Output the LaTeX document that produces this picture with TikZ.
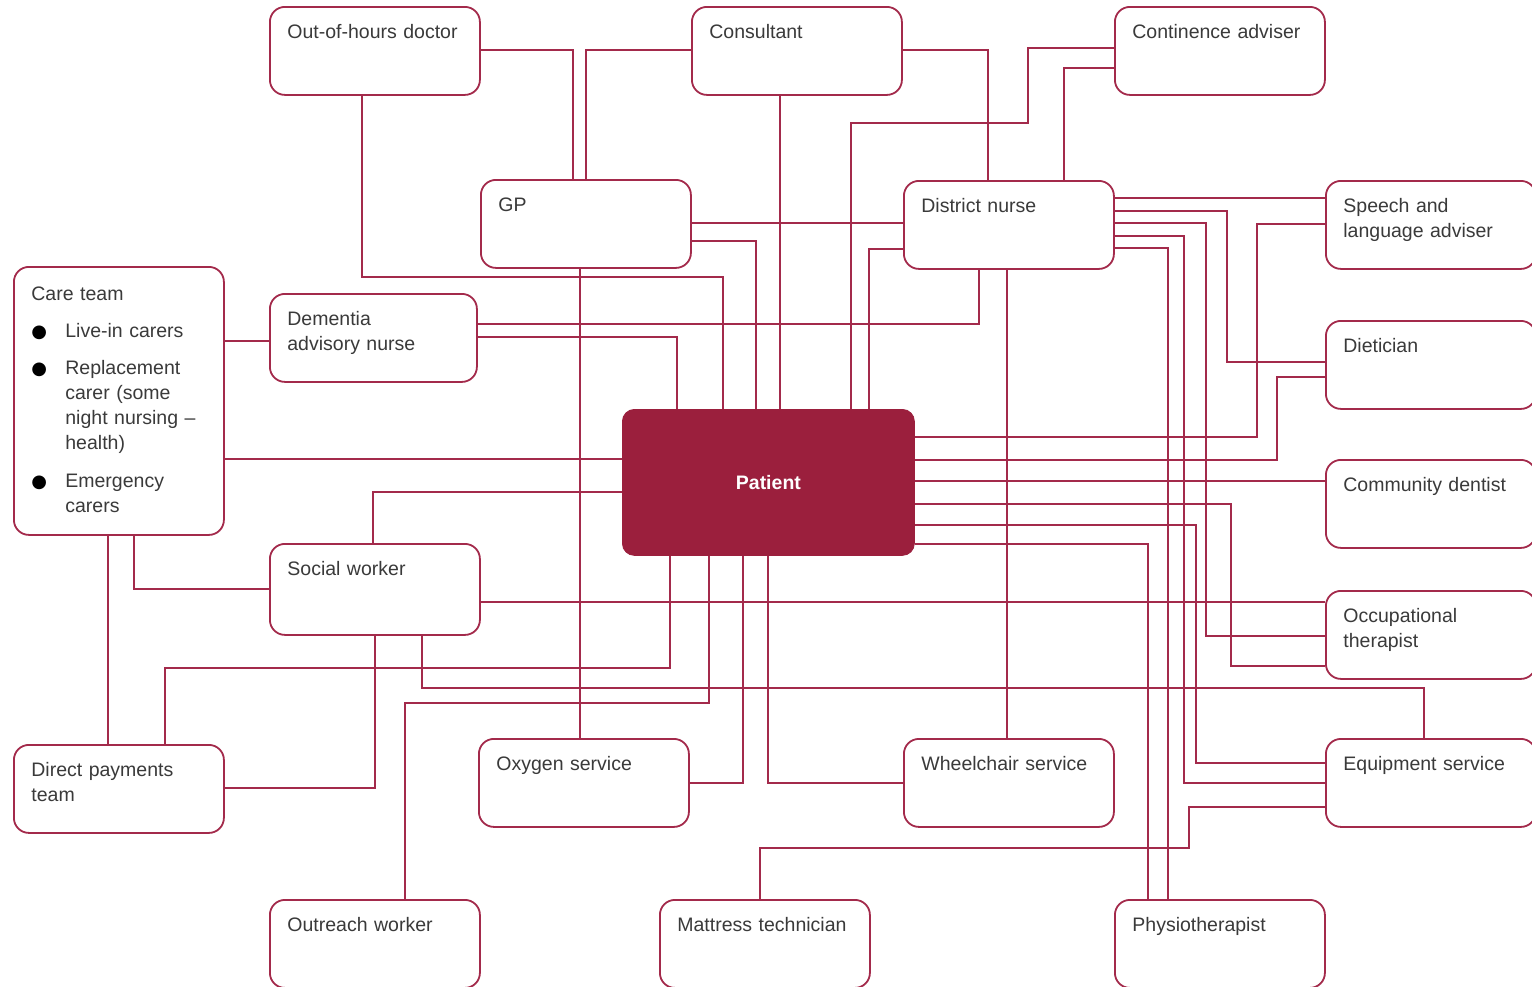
\documentclass[tikz,border=0pt]{standalone}
\usepackage{fontspec}
\setmainfont{Liberation Sans}
\newfontfamily\dotfont{DejaVu Sans}

\definecolor{careRed}{HTML}{9B1F3D}
\definecolor{linkRed}{HTML}{A32A4B}
\definecolor{labelGrey}{HTML}{3A3A3A}

\tikzset{
  role/.style={draw=linkRed, line width=0.9pt, fill=white, rounded corners=7.5pt,
    anchor=north west, align=left, text width=87.5pt, inner xsep=8.75pt, inner ysep=7.75pt,
    text height=8.25pt, text depth=20.25pt},
  tall/.style={text depth=21.75pt},
  hub/.style={draw=careRed, fill=careRed, rounded corners=6pt, anchor=north west,
    minimum width=146pt, minimum height=73pt, text=white,
    font=\fontsize{9.75}{12.5}\selectfont\bfseries},
  link/.style={draw=linkRed, line width=0.8pt},
}
\newcommand\dotitem{\makebox[17pt][l]{{\dotfont\fontsize{9}{9}\selectfont\color{black}●}}}
\newcommand\gap{\hspace*{17pt}}

\begin{document}
\begin{tikzpicture}[x=0.5pt, y=-0.5pt, font=\fontsize{9.75}{12.5}\selectfont, text=labelGrey]
  \useasboundingbox (0,0) rectangle (1532,986);
  \clip (0,0) rectangle (1532,986);

  % everyone round the patient
  \node[role] (ooh) at (269,6) {Out-of-hours doctor};
  \node[role] (consultant) at (691,6) {Consultant};
  \node[role] (continence) at (1114,6) {Continence adviser};
  \node[role] (gp) at (480,179) {GP};
  \node[role] (district) at (903,180) {District nurse};
  \node[role] (speech) at (1325,180) {Speech and\\language adviser};
  \node[role, text height=9pt, text depth=109.5pt] (careteam) at (13,266) {Care team\\[6pt]
    \dotitem Live-in carers\\[6pt]
    \dotitem Replacement\\
    \gap carer (some\\
    \gap night nursing –\\
    \gap health)\\[6.5pt]
    \dotitem Emergency\\
    \gap carers};
  \node[role, text width=86pt] (dementia) at (269,293) {Dementia\\advisory nurse};
  \node[role] (dietician) at (1325,320) {Dietician};
  \node[hub] (patient) at (622,409) {Patient};
  \node[role] (dentist) at (1325,459) {Community dentist};
  \node[role, tall] (social) at (269,543) {Social worker};
  \node[role] (ot) at (1325,590) {Occupational\\therapist};
  \node[role] (oxygen) at (478,738) {Oxygen service};
  \node[role] (wheelchair) at (903,738) {Wheelchair service};
  \node[role] (equipment) at (1325,738) {Equipment service};
  \node[role] (direct) at (13,744) {Direct payments\\team};
  \node[role] (outreach) at (269,899) {Outreach worker};
  \node[role] (mattress) at (659,899) {Mattress technician};
  \node[role] (physio) at (1114,899) {Physiotherapist};

  % top
  \draw[link] (ooh.east |- 0,50) -| (gp.north -| 573,0);
  \draw[link] (consultant.west |- 0,50) -| (gp.north -| 586,0);
  \draw[link] (ooh.south -| 362,0) |- (723,277) -- (patient.north -| 723,0);
  \draw[link] (gp.east |- 0,223) -- (district.west |- 0,223);
  \draw[link] (gp.east |- 0,241) -| (patient.north -| 756,0);
  \draw[link] (gp.south -| 580,0) -- (oxygen.north -| 580,0);
  \draw[link] (consultant.east |- 0,50) -| (district.north -| 988,0);
  \draw[link] (consultant.south -| 780,0) -- (patient.north -| 780,0);
  \draw[link] (continence.west |- 0,48) -| (1028,123) -| (patient.north -| 851,0);
  \draw[link] (continence.west |- 0,68) -| (district.north -| 1064,0);

  % district nurse
  \draw[link] (district.west |- 0,249) -| (patient.north -| 869,0);
  \draw[link] (district.east |- 0,198) -- (speech.west |- 0,198);
  \draw[link] (district.east |- 0,211) -| (1227,362) -- (dietician.west |- 0,362);
  \draw[link] (district.east |- 0,223) -| (1206,636) -- (ot.west |- 0,636);
  \draw[link] (district.east |- 0,236) -| (1184,783) -- (equipment.west |- 0,783);
  \draw[link] (district.east |- 0,248) -| (physio.north -| 1168,0);
  \draw[link] (district.south -| 1007,0) -- (wheelchair.north -| 1007,0);

  % left side
  \draw[link] (dementia.east |- 0,324) -| (district.south -| 979,0);
  \draw[link] (dementia.east |- 0,337) -| (patient.north -| 677,0);
  \draw[link] (careteam.east |- 0,341) -- (dementia.west |- 0,341);
  \draw[link] (careteam.east |- 0,459) -- (patient.west |- 0,459);
  \draw[link] (careteam.south -| 108,0) -- (direct.north -| 108,0);
  \draw[link] (careteam.south -| 134,0) |- (social.west |- 0,589);
  \draw[link] (patient.west |- 0,492) -| (social.north -| 373,0);
  \draw[link] (social.east |- 0,602) -- (ot.west |- 0,602);
  \draw[link] (social.south -| 375,0) |- (direct.east |- 0,788);
  \draw[link] (social.south -| 422,0) |- (1424,688) -- (equipment.north -| 1424,0);

  % under the patient
  \draw[link] (patient.south -| 670,0) |- (165,668) -- (direct.north -| 165,0);
  \draw[link] (patient.south -| 709,0) |- (405,703) -- (outreach.north -| 405,0);
  \draw[link] (patient.south -| 743,0) |- (oxygen.east |- 0,783);
  \draw[link] (patient.south -| 768,0) |- (wheelchair.west |- 0,783);

  % right of the patient
  \draw[link] (patient.east |- 0,437) -| (1257,224) -- (speech.west |- 0,224);
  \draw[link] (patient.east |- 0,460) -| (1277,377) -- (dietician.west |- 0,377);
  \draw[link] (patient.east |- 0,481) -- (dentist.west |- 0,481);
  \draw[link] (patient.east |- 0,504) -| (1231,666) -- (ot.west |- 0,666);
  \draw[link] (patient.east |- 0,525) -| (1196,763) -- (equipment.west |- 0,763);
  \draw[link] (patient.east |- 0,544) -| (physio.north -| 1148,0);
  \draw[link] (equipment.west |- 0,807) -| (1189,848) -| (mattress.north -| 760,0);
\end{tikzpicture}
\end{document}
